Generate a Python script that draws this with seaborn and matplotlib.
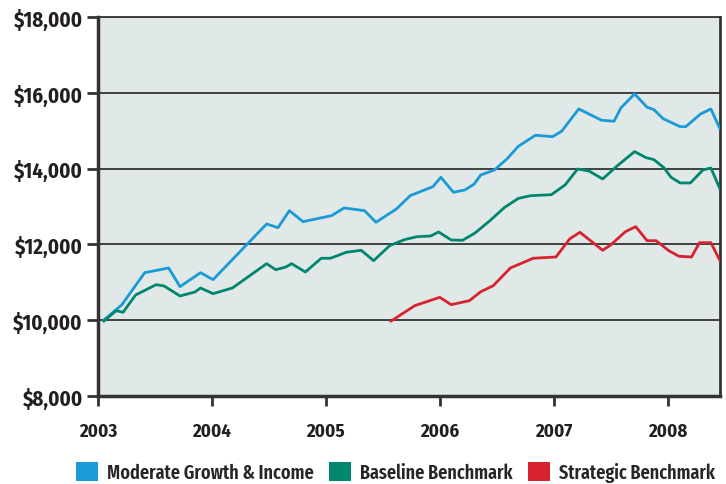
import matplotlib.pyplot as plt
import numpy as np
import pandas as pd
import seaborn as sns
from matplotlib.patches import Patch

# values (decimal year, dollars)
moderate_x = [2003.05, 2003.21, 2003.41, 2003.62, 2003.72, 2003.90, 2004.01, 2004.48,
              2004.58, 2004.68, 2004.80, 2005.05, 2005.16, 2005.34, 2005.44, 2005.62,
              2005.74, 2005.94, 2006.01, 2006.12, 2006.22, 2006.30, 2006.36, 2006.48,
              2006.59, 2006.69, 2006.84, 2006.99, 2007.07, 2007.22, 2007.42, 2007.53,
              2007.59, 2007.71, 2007.82, 2007.88, 2007.96, 2008.11, 2008.16, 2008.29,
              2008.38, 2008.46]
moderate_y = [10000, 10410, 11254, 11378, 10885, 11254, 11070, 12539,
              12442, 12890, 12600, 12758, 12961, 12890, 12584, 12935,
              13286, 13524, 13771, 13375, 13436, 13586, 13832, 13964,
              14255, 14589, 14880, 14843, 14985, 15574, 15276, 15250,
              15601, 15970, 15619, 15556, 15318, 15107, 15107, 15442,
              15574, 15046]

baseline_x = [2003.05, 2003.16, 2003.22, 2003.33, 2003.51, 2003.58, 2003.72, 2003.85,
              2003.90, 2004.01, 2004.18, 2004.48, 2004.56, 2004.65, 2004.70, 2004.82,
              2004.96, 2005.04, 2005.18, 2005.31, 2005.42, 2005.56, 2005.69, 2005.80,
              2005.92, 2005.99, 2006.10, 2006.20, 2006.31, 2006.44, 2006.57, 2006.69,
              2006.80, 2006.98, 2007.10, 2007.21, 2007.31, 2007.43, 2007.56, 2007.71,
              2007.81, 2007.88, 2007.97, 2008.03, 2008.11, 2008.20, 2008.31, 2008.38,
              2008.46]
baseline_y = [9971, 10251, 10208, 10665, 10937, 10903, 10639, 10744,
              10850, 10700, 10850, 11491, 11333, 11404, 11491, 11272,
              11634, 11634, 11792, 11845, 11571, 11967, 12125, 12204,
              12222, 12328, 12117, 12108, 12301, 12626, 12978, 13215,
              13286, 13312, 13568, 13990, 13937, 13726, 14078, 14448,
              14290, 14237, 14017, 13771, 13621, 13621, 13964, 14017,
              13462]

strategic_x = [2005.57, 2005.78, 2006.00, 2006.10, 2006.26, 2006.36, 2006.47, 2006.62,
               2006.82, 2007.02, 2007.14, 2007.23, 2007.43, 2007.50, 2007.63, 2007.72,
               2007.82, 2007.90, 2008.01, 2008.10, 2008.21, 2008.28, 2008.38, 2008.46]
strategic_y = [9971, 10383, 10604, 10410, 10515, 10752, 10911, 11378,
               11634, 11668, 12143, 12320, 11845, 11985, 12336, 12468,
               12098, 12098, 11835, 11687, 11668, 12045, 12045, 11571]

series_names = ["Moderate Growth & Income", "Baseline Benchmark", "Strategic Benchmark"]
colors = ["#1a9ad6", "#00866e", "#d7232f"]
years = [2003, 2004, 2005, 2006, 2007, 2008]
yticks = [8000, 10000, 12000, 14000, 16000, 18000]

df = pd.concat([
    pd.DataFrame({"year": moderate_x, "value": moderate_y, "series": series_names[0]}),
    pd.DataFrame({"year": baseline_x, "value": baseline_y, "series": series_names[1]}),
    pd.DataFrame({"year": strategic_x, "value": strategic_y, "series": series_names[2]}),
])

sns.set_style("ticks")
plt.rcParams["font.family"] = ["Fira Sans Condensed", "DejaVu Sans"]
ink = "#231f20"

fig = plt.figure(figsize=(7.26, 4.85), dpi=100)
ax = fig.add_axes([98 / 726, 1 - 397 / 485, 622 / 726, 379 / 485])
ax.set_facecolor("#e0e9e7")

for v in yticks[1:]:
    ax.axhline(v, color="#333333", lw=1.3, zorder=1)

sns.lineplot(data=df, x="year", y="value", hue="series", palette=colors,
             estimator=None, sort=False, lw=2.0, ax=ax, legend=False, zorder=3)

ax.set_xlim(2003, 2008.46)
ax.set_ylim(8000, 18000)
ax.set_xticks(years)
ax.set_xticklabels([str(y) for y in years], fontsize=13.5, fontweight="bold", color=ink)
ax.set_yticks(yticks)
ax.set_yticklabels([r"\$" + f"{v:,}" for v in yticks], fontsize=15,
                   fontweight="bold", color=ink)
ax.tick_params(axis="x", length=7, width=2, pad=12, color="#333333")
ax.tick_params(axis="y", length=8, width=2, pad=3, color="#333333")
ax.set_xlabel("")
ax.set_ylabel("")

for side in ["left", "bottom"]:
    ax.spines[side].set_linewidth(2.5)
    ax.spines[side].set_color("#333333")
ax.spines["right"].set_linewidth(2)
ax.spines["right"].set_color("#333333")
ax.spines["top"].set_linewidth(1.3)
ax.spines["top"].set_color("#333333")

handles = [Patch(facecolor=c, edgecolor="none") for c in colors]
fig.legend(handles, series_names, loc="center left",
           bbox_to_anchor=(76 / 726, 1 - 473 / 485),
           ncol=3, frameon=False, borderpad=0, borderaxespad=0,
           handlelength=1.1, handleheight=1.1,
           handletextpad=0.45, columnspacing=0.8,
           prop={"family": ["Fira Sans Extra Condensed", "DejaVu Sans"],
                 "size": 14.2, "weight": "semibold"})

fig.savefig("out.png", dpi=100)
